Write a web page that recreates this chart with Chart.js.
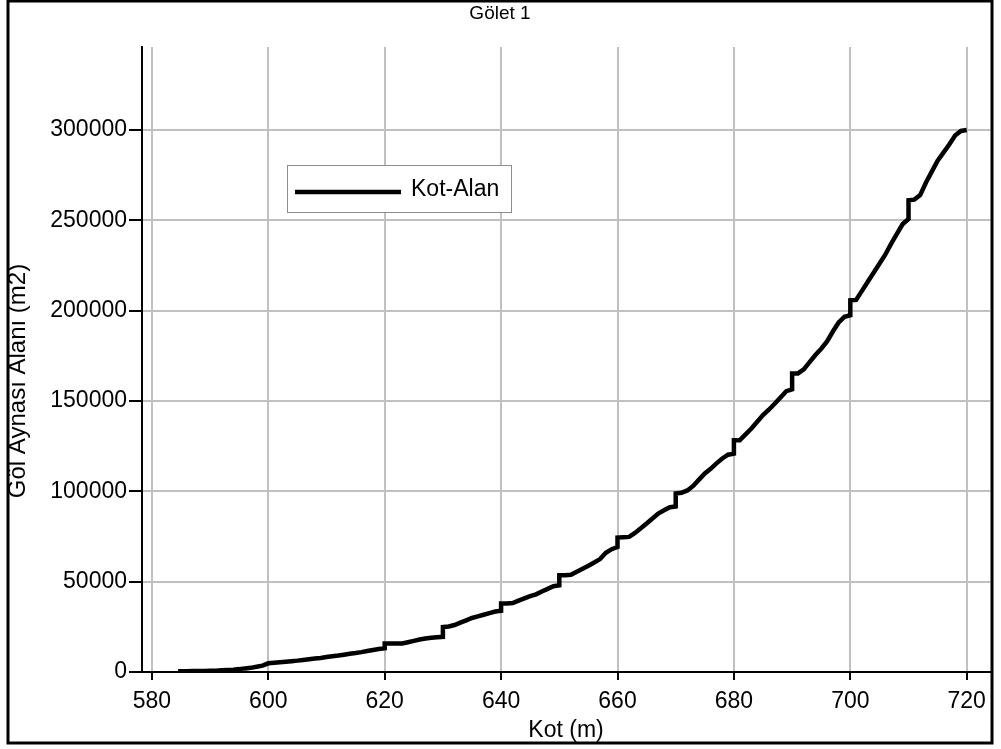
<!DOCTYPE html>
<html>
<head>
<meta charset="utf-8">
<title>Gölet 1</title>
<script src="https://cdn.jsdelivr.net/npm/chart.js@4.4.0/dist/chart.umd.min.js"></script>
<style>
  body { margin: 0; background: #fff; }
  #wrap { width: 1001px; height: 749px; }
</style>
</head>
<body>
<div id="wrap"><canvas id="myChart" width="1001" height="749"></canvas></div>
<script>
const chartTitle = 'Gölet 1';
const xTitle = 'Kot (m)';
const yTitle = 'Göl Aynası Alanı (m2)';
const seriesLabel = 'Kot-Alan';

const xTicks = [580, 600, 620, 640, 660, 680, 700, 720];
const yTicks = [0, 50000, 100000, 150000, 200000, 250000, 300000];

// Kot (m) - decade levels appear twice (value before / after the jump)
const kot = [
  584.5, 585, 586, 587, 588, 589, 590, 591, 592, 593, 594, 595, 596, 597, 598, 599,
  600, 601, 602, 603, 604, 605, 606, 607, 608, 609,
  610, 611, 612, 613, 614, 615, 616, 617, 618, 619,
  620, 620, 621, 622, 623, 624, 625, 626, 627, 628, 629,
  630, 630, 631, 632, 633, 634, 635, 636, 637, 638, 639,
  640, 640, 641, 642, 643, 644, 645, 646, 647, 648, 649,
  650, 650, 651, 652, 653, 654, 655, 656, 657, 658, 659,
  660, 660, 661, 662, 663, 664, 665, 666, 667, 668, 669,
  670, 670, 671, 672, 673, 674, 675, 676, 677, 678, 679,
  680, 680, 681, 682, 683, 684, 685, 686, 687, 688, 689,
  690, 690, 691, 692, 693, 694, 695, 696, 697, 698, 699,
  700, 700, 701, 702, 703, 704, 705, 706, 707, 708, 709,
  710, 710, 711, 712, 713, 714, 715, 716, 717, 718, 719,
  720
];

// Göl aynası alanı (m2)
const alan = [
  400, 400, 450, 500, 550, 600, 650, 700, 950, 1100, 1300, 1600, 2000, 2300, 2900, 3500,
  4800, 5100, 5400, 5700, 6000, 6300, 6700, 7100, 7500, 7800,
  8300, 8700, 9100, 9600, 10100, 10500, 11000, 11600, 12200, 12700,
  13100, 15800, 15800, 15800, 15800, 16500, 17200, 18000, 18500, 19000, 19300,
  19500, 24900, 25200, 26000, 27300, 28600, 29900, 30800, 31700, 32600, 33500,
  33900, 37900, 37900, 38200, 39500, 40800, 42000, 43000, 44600, 46000, 47500,
  48000, 53500, 53500, 53800, 55500, 57200, 58800, 60600, 62500, 66000, 68000,
  69200, 74400, 74600, 74800, 77000, 79600, 82200, 85000, 87700, 89500, 91200,
  91600, 98800, 99200, 100500, 103000, 106500, 109900, 112500, 115500, 118200, 120300,
  120900, 128300, 128300, 131500, 134800, 138500, 142200, 145200, 148500, 152000, 155500,
  156500, 165300, 165300, 167500, 171500, 175500, 179000, 183000, 188500, 193500, 196600,
  197500, 205800, 206000, 211000, 216000, 221000, 226000, 231000, 237000, 242500, 248000,
  250800, 261200, 261500, 264000, 271000, 277000, 283000, 287500, 292000, 297000, 299500,
  300000
];

const FONT = '"Liberation Sans", Arial, sans-serif';

// outer frame, title, axis titles, legend box
const decorations = {
  id: 'decorations',
  afterDraw(chart) {
    const ctx = chart.ctx;
    const ds = chart.data.datasets[0];
    ctx.save();

    ctx.strokeStyle = '#000';
    ctx.lineWidth = 3;
    ctx.strokeRect(8, 1, 984, 742);

    ctx.fillStyle = '#000';
    ctx.textAlign = 'center';
    ctx.textBaseline = 'middle';
    ctx.font = '19px ' + FONT;
    ctx.fillText(chartTitle, 500, 14);

    ctx.font = '23px ' + FONT;
    ctx.fillText(xTitle, (chart.chartArea.left + chart.chartArea.right) / 2, 731);

    ctx.save();
    ctx.translate(18, 381);
    ctx.rotate(-Math.PI / 2);
    ctx.font = '24px ' + FONT;
    ctx.fillText(yTitle, 0, 0);
    ctx.restore();

    // legend
    ctx.fillStyle = '#fff';
    ctx.fillRect(287, 165, 224, 47);
    ctx.strokeStyle = '#8c8c8c';
    ctx.lineWidth = 1;
    ctx.strokeRect(287.5, 165.5, 224, 47);
    ctx.strokeStyle = ds.borderColor;
    ctx.lineWidth = ds.borderWidth;
    ctx.beginPath();
    ctx.moveTo(295, 192);
    ctx.lineTo(401, 192);
    ctx.stroke();
    ctx.fillStyle = '#000';
    ctx.textAlign = 'left';
    ctx.font = '23px ' + FONT;
    ctx.fillText(ds.label, 411, 190);

    ctx.restore();
  }
};

const ctx = document.getElementById('myChart');
const myChart = new Chart(ctx, {
  type: 'line',
  data: {
    datasets: [
      {
        label: seriesLabel,
        data: kot.map((k, i) => ({ x: k, y: alan[i] })),
        borderColor: '#000',
        borderWidth: 4.5,
        pointRadius: 0,
        tension: 0,
        fill: false,
      },
    ],
  },
  options: {
    responsive: false,
    animation: false,
    layout: { padding: { top: 47, right: 11, left: 0, bottom: 0 } },
    plugins: {
      legend: { display: false },
      title: { display: false },
      tooltip: { enabled: false },
    },
    scales: {
      x: {
        type: 'linear',
        min: 578.3,
        max: 724,
        afterBuildTicks: axis => { axis.ticks = xTicks.map(v => ({ value: v })); },
        afterFit: s => { s.height = 77; },
        grid: { color: '#c0c0c0', lineWidth: 2, tickColor: '#000', tickWidth: 2, tickLength: 8 },
        border: { color: '#000', width: 2 },
        ticks: {
          color: '#000',
          font: { family: FONT, size: 23 },
          padding: 8,
          maxRotation: 0,
          autoSkip: false,
          callback: v => String(v),
        },
      },
      y: {
        min: 0,
        max: 346000,
        afterBuildTicks: axis => { axis.ticks = yTicks.map(v => ({ value: v })); },
        afterFit: s => { s.width = 142; },
        grid: { color: '#c0c0c0', lineWidth: 2, tickColor: '#000', tickWidth: 2, tickLength: 13 },
        border: { color: '#000', width: 2 },
        ticks: {
          color: '#000',
          font: { family: FONT, size: 23 },
          padding: 2,
          autoSkip: false,
          callback: v => String(v),
        },
      },
    },
  },
  plugins: [decorations],
});
</script>
</body>
</html>
